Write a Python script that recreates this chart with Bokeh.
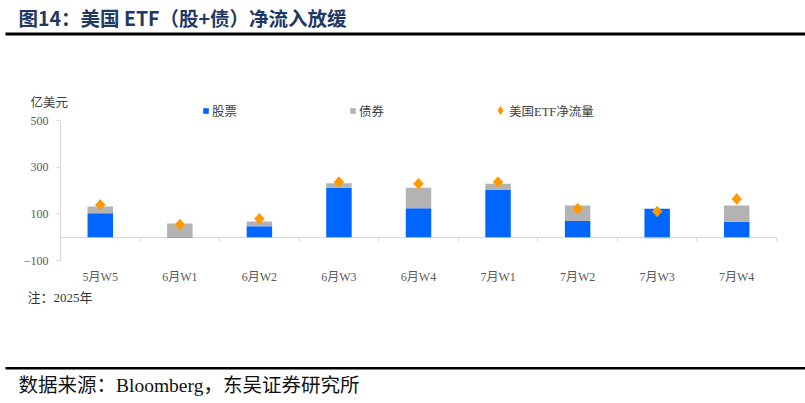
import numpy as np
from bokeh.plotting import figure
from bokeh.models import (Range1d, FixedTicker, Label, LinearAxis,
                          BoxAnnotation, Legend, LegendItem, ColumnDataSource)
from bokeh.embed import file_html
from bokeh.resources import INLINE

# ---------------- data ----------------
categories = ["5月W5", "6月W1", "6月W2", "6月W3", "6月W4", "7月W1", "7月W2", "7月W3", "7月W4"]
stock = [103, -3, 47, 212, 124, 202, 69, 122, 66]      # 股票
bond = [28, 59, 20, 19, 88, 27, 67, -6, 70]            # 债券
net = [139, 54, 79, 236, 229, 236, 122, 110, 164]      # 美国ETF净流量
y_ticks = [-100, 100, 300, 500]

# ---------------- layout (page pixels) ----------------
W, H = 805, 403
AX_LEFT, AX_RIGHT = 60, 776      # category axis extent
AX_TOP, AX_BOTTOM = 120, 260     # value axis extent (500 .. -100)

n = len(categories)
cat_px = (AX_RIGHT - AX_LEFT) / n
px_per_unit = (AX_BOTTOM - AX_TOP) / (y_ticks[-1] - y_ticks[0])
x_lo = -AX_LEFT / cat_px
x_hi = n + (W - AX_RIGHT) / cat_px
y_lo = y_ticks[0] - (H - AX_BOTTOM) / px_per_unit
y_hi = y_ticks[-1] + AX_TOP / px_per_unit


def sx(px):
    return px


def sy(py):
    return H - py


SERIF = "'Liberation Serif', 'Noto Sans CJK SC'"
AXIS_GRAY = "#d9d9d9"
TEXT_GRAY = "#595959"
ORANGE = "#FF9900"

p = figure(width=W, height=H,
           x_range=Range1d(x_lo, x_hi), y_range=Range1d(y_lo, y_hi),
           output_backend="svg", toolbar_location=None,
           min_border=0, outline_line_color=None)
p.xgrid.grid_line_color = None
p.ygrid.grid_line_color = None

xc = np.arange(n) + 0.5

# y axis
p.yaxis.fixed_location = 0
p.yaxis.bounds = (y_ticks[0], y_ticks[-1])
p.yaxis.ticker = FixedTicker(ticks=y_ticks)
p.yaxis.axis_line_color = AXIS_GRAY
p.yaxis.major_tick_line_color = AXIS_GRAY
p.yaxis.major_tick_out = 4
p.yaxis.major_tick_in = 0
p.yaxis.minor_tick_line_color = None
p.yaxis.major_label_text_font = SERIF
p.yaxis.major_label_text_font_size = "12px"
p.yaxis.major_label_text_color = TEXT_GRAY
p.yaxis.major_label_standoff = 8

# category labels axis
p.xaxis.fixed_location = y_ticks[0]
p.xaxis.ticker = FixedTicker(ticks=list(xc))
p.xaxis.major_label_overrides = {float(x): c for x, c in zip(xc, categories)}
p.xaxis.axis_line_color = None
p.xaxis.major_tick_line_color = None
p.xaxis.minor_tick_line_color = None
p.xaxis.major_label_text_font = SERIF
p.xaxis.major_label_text_font_size = "12px"
p.xaxis.major_label_text_color = TEXT_GRAY
p.xaxis.major_label_standoff = 3

# zero line with category-boundary ticks
zero_axis = LinearAxis(fixed_location=0, bounds=(0, n),
                       ticker=FixedTicker(ticks=list(range(n + 1))),
                       axis_line_color=AXIS_GRAY, major_tick_line_color=AXIS_GRAY,
                       major_tick_out=4, major_tick_in=0, minor_tick_line_color=None,
                       major_label_text_alpha=0, major_label_text_font_size="1px",
                       level="underlay")
p.add_layout(zero_axis, "below")

# stacking (positives up from 0, negatives down from 0)
s = np.array(stock, dtype=float)
b = np.array(bond, dtype=float)
s_bot = np.where(s >= 0, 0, s)
s_top = np.where(s >= 0, s, 0)
pos_base = np.maximum(s, 0)
neg_base = np.minimum(s, 0)
b_bot = np.where(b >= 0, pos_base, neg_base + b)
b_top = np.where(b >= 0, pos_base + b, neg_base)

src = ColumnDataSource(data=dict(x=xc, s_bot=s_bot, s_top=s_top,
                                 b_bot=b_bot, b_top=b_top, net=net))

r_stock = p.vbar(x="x", bottom="s_bot", top="s_top", width=0.32, source=src,
                 fill_color="#0066FF", line_color=None)
r_bond = p.vbar(x="x", bottom="b_bot", top="b_top", width=0.32, source=src,
                fill_color="#B3B3B3", line_color=None)
# diamond marker (also serves as legend key) under a 45° square of the same colour
r_net_key = p.scatter(x="x", y="net", source=src, marker="diamond", size=10,
                      fill_color=ORANGE, line_color=ORANGE, line_width=1.2)
r_net = p.scatter(x="x", y="net", source=src, marker="square", size=7.5,
                  angle=np.pi / 4, fill_color=ORANGE, line_color=None)


def add_legend(label, renderer, px_left, py_center, gw, gh, standoff):
    leg = Legend(items=[LegendItem(label=label, renderers=[renderer])],
                 location=(sx(px_left), sy(py_center) - 10),
                 orientation="horizontal", padding=0, margin=0, spacing=0,
                 border_line_color=None, background_fill_alpha=0,
                 glyph_width=gw, glyph_height=gh, label_height=12,
                 label_standoff=standoff, label_text_font=SERIF,
                 label_text_font_size="12.5px", label_text_color="#404040")
    p.add_layout(leg)


add_legend("股票", r_stock, 202, 110, 7, 7, 3)
add_legend("债券", r_bond, 349, 110, 7, 7, 3)
add_legend("美国ETF净流量", r_net_key, 491, 110, 18, 20, -2)

# texts
p.add_layout(Label(x=sx(18), y=sy(17), x_units="screen", y_units="screen",
                   text="图14：美国 ETF（股+债）净流入放缓",
                   text_font="Noto Sans CJK SC", text_font_size="19.5px",
                   text_font_style="bold", text_color="#1F3864",
                   text_baseline="middle", text_align="left"))
p.add_layout(Label(x=sx(30), y=sy(102), x_units="screen", y_units="screen",
                   text="亿美元", text_font=SERIF, text_font_size="12.5px",
                   text_color="#404040", text_baseline="middle"))
p.add_layout(Label(x=sx(27), y=sy(297), x_units="screen", y_units="screen",
                   text="注：2025年", text_font=SERIF, text_font_size="13px",
                   text_color="#333333", text_baseline="middle"))
p.add_layout(Label(x=sx(18), y=sy(385), x_units="screen", y_units="screen",
                   text="数据来源：Bloomberg，东吴证券研究所", text_font=SERIF,
                   text_font_size="19.5px", text_color="#111111",
                   text_baseline="middle"))

# rules
for top_px, bot_px in [(32, 35), (366.5, 369)]:
    p.add_layout(BoxAnnotation(left=sx(5), right=sx(W), top=sy(top_px), bottom=sy(bot_px),
                               left_units="screen", right_units="screen",
                               top_units="screen", bottom_units="screen",
                               fill_color="black", fill_alpha=1, line_color=None))

open("out.html", "w").write(file_html(p, INLINE))
